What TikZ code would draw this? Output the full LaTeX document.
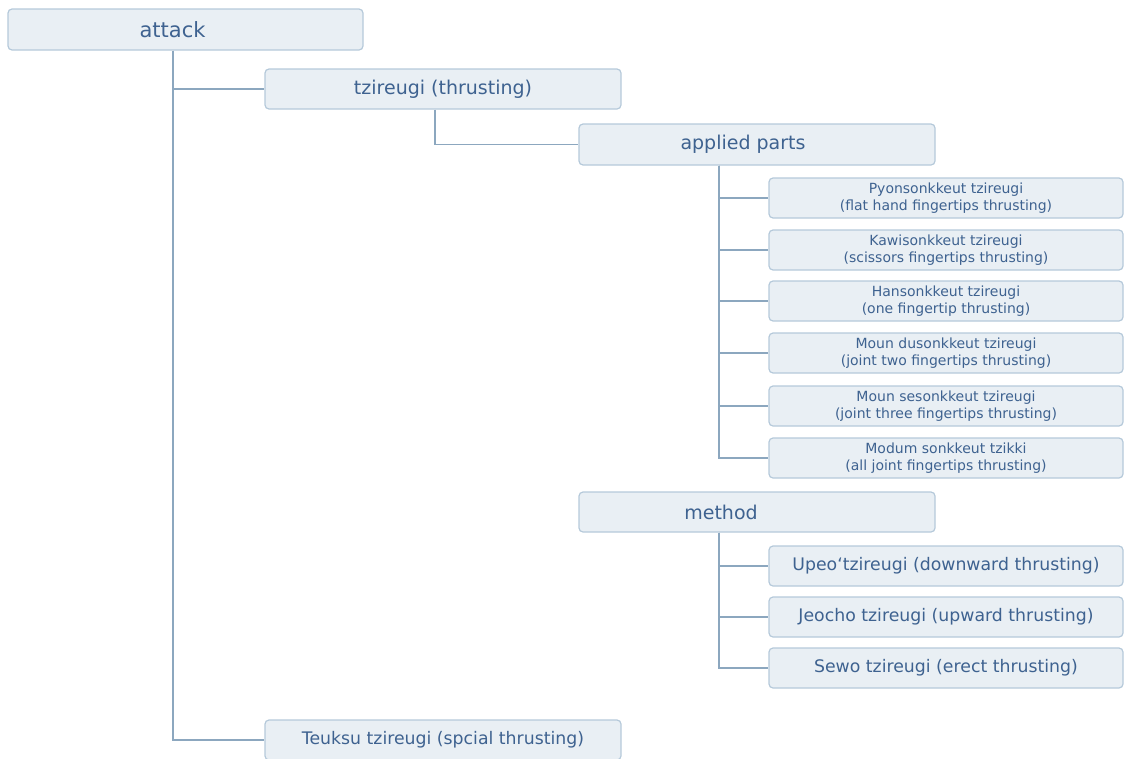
\documentclass[tikz,border=0pt]{standalone}
\usepackage{fontspec}
\setmainfont{DejaVu Sans}
\definecolor{boxfill}{HTML}{E9EFF4}
\definecolor{boxline}{HTML}{B5C9DA}
\definecolor{txt}{HTML}{3E6290}
\definecolor{conn}{HTML}{8CA7BF}
\tikzset{
  box/.style={draw=boxline, fill=boxfill, rounded corners=4pt, line width=1.2pt,
    minimum width=354pt, minimum height=40pt, inner sep=0pt, text=txt, align=center},
  big/.style={box, font=\fontsize{19}{23}\selectfont},
  mid/.style={box, font=\fontsize{17.3}{21}\selectfont},
  small/.style={box, font=\fontsize{14}{17.5}\selectfont},
  link/.style={draw=conn, line width=1.4pt},
}
\begin{document}
\begin{tikzpicture}[x=1pt,y=-1pt]
\useasboundingbox (0,0) rectangle (1124,758);
\node[big, minimum width=355pt, minimum height=41pt, font=\fontsize{21}{25}\selectfont] (attack) at (185.5,29.5) {attack\hspace*{26pt}};
\node[big, minimum width=356pt] (tz) at (443,89) {tzireugi (thrusting)};
\node[big, minimum width=356pt, minimum height=41pt] (applied) at (757,144.5) {applied parts\hspace*{28pt}};
\node[small] (p1) at (946,198) {Pyonsonkkeut tzireugi\\(flat hand fingertips thrusting)};
\node[small] (p2) at (946,250) {Kawisonkkeut tzireugi\\(scissors fingertips thrusting)};
\node[small] (p3) at (946,301) {Hansonkkeut tzireugi\\(one fingertip thrusting)};
\node[small] (p4) at (946,353) {Moun dusonkkeut tzireugi\\(joint two fingertips thrusting)};
\node[small] (p5) at (946,406) {Moun sesonkkeut tzireugi\\(joint three fingertips thrusting)};
\node[small] (p6) at (946,458) {Modum sonkkeut tzikki\\(all joint fingertips thrusting)};
\node[big, minimum width=356pt] (method) at (757,512) {method\hspace*{72pt}};
\node[mid] (m1) at (946,566) {Upeo`tzireugi (downward thrusting)};
\node[mid] (m2) at (946,617) {Jeocho tzireugi (upward thrusting)};
\node[mid] (m3) at (946,668) {Sewo tzireugi (erect thrusting)};
\node[mid, minimum width=356pt] (teuksu) at (443,740) {Teuksu tzireugi (spcial thrusting)};
\draw[link] ([xshift=-12.5pt]attack.south) |- (tz.west);
\draw[link] ([xshift=-12.5pt]attack.south) |- (teuksu.west);
\draw[link] ([xshift=-8pt]tz.south) |- (applied.west);
\foreach \n in {p1,p2,p3,p4,p5,p6}
  \draw[link] ([xshift=-38pt]applied.south) |- (\n.west);
\foreach \n in {m1,m2,m3}
  \draw[link] ([xshift=-38pt]method.south) |- (\n.west);
\end{tikzpicture}
\end{document}
